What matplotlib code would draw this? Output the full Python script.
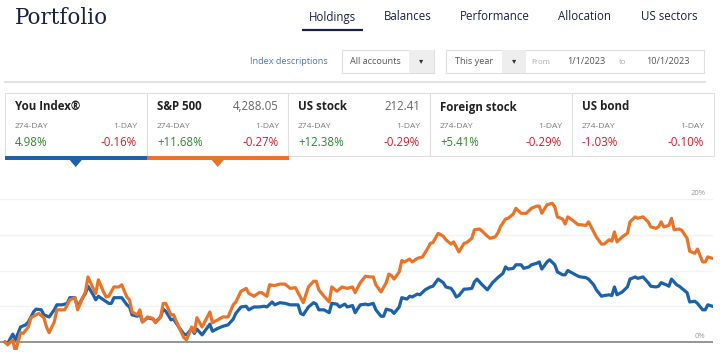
import matplotlib
matplotlib.use("Agg")
import matplotlib.pyplot as plt
from matplotlib.patches import Rectangle, Polygon

plt.rcParams['font.family'] = ['Open Sans', 'DejaVu Sans']

# tabs and controls
tabs = ['Holdings', 'Balances', 'Performance', 'Allocation', 'US sectors']
tab_x = [332, 408, 495, 585, 669]
date_from = '1/1/2023'
date_to = '10/1/2023'

# summary cards
card_names = ['You Index®', 'S&P 500', 'US stock', 'Foreign stock', 'US bond']
card_prices = ['', '4,288.05', '212.41', '', '']
card_274 = ['4.98%', '+11.68%', '+12.38%', '+5.41%', '-1.03%']
card_1day = ['-0.16%', '-0.27%', '-0.29%', '-0.29%', '-0.10%']

# series (day of period, % return)
sp_days = [0, 1, 3, 4, 6, 7, 9, 10, 12, 13, 15, 16, 17, 19, 20, 23, 25, 27, 28, 30,
           31, 32, 34, 35, 36, 38, 39, 40, 42, 44, 45, 47, 48, 49, 51, 52, 53, 55, 57, 58,
           60, 61, 62, 64, 65, 67, 69, 70, 72, 73, 74, 76, 77, 79, 80, 82, 84, 86, 88, 89,
           91, 93, 94, 96, 98, 99, 101, 102, 104, 106, 108, 110, 112, 114, 115, 117, 119, 120, 121, 123,
           125, 126, 128, 130, 132, 134, 135, 137, 139, 141, 142, 143, 145, 147, 148, 149, 150, 152, 153, 154,
           156, 157, 159, 161, 163, 164, 165, 167, 169, 170, 172, 173, 174, 175, 177, 178, 180, 181, 183, 184,
           186, 187, 189, 190, 191, 193, 194, 196, 197, 199, 201, 203, 205, 206, 207, 209, 211, 212, 213, 215,
           216, 217, 219, 221, 222, 224, 225, 227, 228, 230, 231, 233, 234, 235, 236, 238, 240, 241, 243, 244,
           246, 248, 249, 251, 252, 253, 254, 256, 257, 258, 260, 261, 263, 264, 266, 267, 269, 270, 271, 273]
sp_vals = [0.0, -0.4, 0.3, -1.4, 1.3, 1.2, 2.1, 3.4, 3.8, 4.0, 3.4, 2.1, 1.3, 2.8, 4.5, 4.5, 5.9, 6.2, 4.5, 6.2,
           7.0, 9.1, 7.5, 6.8, 8.7, 7.0, 6.3, 6.4, 7.7, 7.7, 8.0, 6.3, 5.9, 4.2, 3.8, 4.5, 2.8, 3.5, 3.3, 2.7,
           3.5, 5.4, 5.4, 3.8, 3.8, 2.1, 0.6, 0.3, 2.1, 1.4, 3.4, 2.1, 2.8, 4.2, 2.7, 3.1, 3.5, 3.5, 5.2, 5.6,
           7.1, 7.5, 6.8, 6.4, 6.9, 6.9, 6.4, 8.0, 7.9, 8.1, 8.1, 7.5, 7.6, 6.2, 5.5, 7.7, 8.5, 8.5, 7.3, 6.4,
           5.6, 7.7, 7.1, 7.7, 7.5, 7.7, 6.9, 8.3, 9.2, 9.1, 9.1, 8.0, 7.0, 8.3, 9.5, 9.3, 8.8, 9.8, 11.4, 11.2,
           11.6, 11.2, 11.7, 11.9, 13.1, 13.8, 13.9, 15.2, 14.8, 14.3, 13.7, 14.0, 13.3, 12.6, 13.8, 13.9, 14.5, 15.7, 15.8, 15.5,
           14.8, 14.5, 14.7, 15.2, 16.1, 17.2, 17.3, 17.9, 18.7, 18.0, 18.0, 18.7, 19.0, 19.0, 18.0, 19.2, 19.4, 18.9, 17.5, 17.2,
           16.5, 17.5, 17.0, 16.4, 16.4, 16.3, 16.8, 15.4, 14.7, 13.7, 13.7, 14.3, 14.1, 15.4, 14.0, 14.7, 15.2, 16.8, 17.5, 17.3,
           17.5, 16.8, 16.1, 15.9, 16.1, 16.8, 16.1, 16.3, 17.3, 15.7, 15.8, 15.6, 14.5, 12.7, 12.4, 13.0, 11.2, 11.2, 11.9, 11.68]

you_days = [0, 1, 3, 4, 6, 8, 9, 11, 12, 14, 15, 17, 19, 20, 22, 24, 25, 27, 28, 30,
            31, 32, 34, 35, 36, 38, 40, 41, 42, 44, 45, 47, 48, 49, 51, 52, 53, 55, 57, 58,
            60, 61, 62, 64, 65, 67, 69, 70, 72, 73, 74, 76, 77, 79, 80, 82, 84, 86, 88, 89,
            91, 93, 94, 96, 98, 100, 101, 103, 104, 106, 108, 110, 113, 114, 115, 117, 119, 120, 121, 123,
            125, 126, 128, 129, 131, 132, 134, 135, 137, 139, 140, 142, 143, 145, 146, 147, 149, 150, 152, 153,
            155, 156, 157, 159, 160, 162, 164, 165, 167, 169, 170, 172, 173, 174, 175, 177, 178, 180, 181, 182,
            184, 186, 187, 188, 190, 192, 193, 194, 196, 197, 199, 200, 202, 203, 205, 206, 207, 209, 210, 212,
            213, 215, 216, 217, 219, 221, 222, 224, 225, 227, 228, 230, 231, 233, 234, 235, 236, 238, 240, 241,
            243, 244, 246, 248, 249, 251, 252, 253, 255, 256, 257, 259, 260, 261, 263, 264, 266, 267, 269, 270,
            271, 273]
you_vals = [0.0, -0.2, 1.1, 0.3, 2.1, 2.4, 2.8, 4.2, 4.6, 4.5, 3.8, 3.5, 4.5, 5.2, 5.2, 5.4, 6.2, 6.2, 4.9, 6.2,
            6.8, 7.8, 6.6, 5.9, 6.4, 5.9, 5.4, 5.4, 6.2, 6.2, 6.2, 5.2, 4.9, 3.8, 3.6, 4.0, 2.8, 3.4, 3.2, 2.8,
            3.5, 4.6, 4.3, 3.1, 3.2, 2.1, 1.1, 1.0, 1.9, 1.2, 1.8, 1.0, 1.5, 2.5, 1.5, 1.9, 2.2, 2.4, 3.2, 4.0,
            4.9, 5.0, 4.5, 4.9, 4.9, 5.0, 4.9, 5.6, 5.2, 5.5, 5.4, 5.2, 5.2, 4.0, 3.8, 4.9, 5.5, 5.3, 4.5, 4.5,
            4.1, 5.4, 5.3, 4.9, 5.3, 4.9, 5.1, 4.1, 5.2, 5.3, 5.2, 5.4, 4.5, 3.6, 3.6, 4.6, 4.4, 4.0, 4.9, 6.2,
            6.0, 6.4, 6.3, 6.7, 6.6, 7.3, 7.7, 7.8, 8.8, 8.3, 7.7, 7.5, 7.0, 6.3, 6.5, 7.4, 7.4, 7.5, 8.4, 8.8,
            8.0, 7.3, 7.8, 8.3, 9.0, 9.6, 10.5, 10.2, 10.3, 10.8, 10.8, 10.3, 10.5, 10.8, 11.0, 11.2, 10.2, 11.2, 11.5, 10.8,
            9.8, 9.4, 9.4, 10.0, 9.6, 9.2, 9.1, 9.0, 8.8, 8.0, 7.3, 6.4, 6.5, 6.6, 6.5, 7.7, 6.6, 7.0, 7.7, 8.8,
            9.1, 8.9, 9.1, 8.3, 7.8, 7.7, 7.8, 8.3, 8.0, 7.8, 8.8, 8.0, 7.8, 7.5, 6.9, 5.6, 5.7, 5.4, 4.5, 4.5,
            5.2, 4.98]

y_grid = [5, 10, 15, 20]

navy = '#1b2146'
blue = '#1d62a8'
orange = '#e8742a'
green = '#2b8a2b'
red = '#cc1f2a'
light = '#dedede'

fig = plt.figure(figsize=(7.2, 3.6), dpi=100)

# chart area
ax = fig.add_axes([0, 10 / 360, 713 / 720, 165 / 360])
ax.set_xlim(-5 * 273 / 708, 273)
ax.set_ylim(-8 / 7.15, 157 / 7.15)
for g in y_grid:
    ax.axhline(g, color='#f2f2f2', lw=1, zorder=0)
ax.axhline(0, color='#8c8c8c', lw=1.3, zorder=1)
ax.plot(you_days, you_vals, color=blue, lw=2.3, solid_joinstyle='round', zorder=3)
ax.plot(sp_days, sp_vals, color=orange, lw=2.3, solid_joinstyle='round', zorder=4)
ax.text(270, 20.3, '20%', ha='right', va='bottom', fontsize=5.5, color='#9a9a9a')
ax.text(270, 0.3, '0%', ha='right', va='bottom', fontsize=5.5, color='#9a9a9a')
ax.axis('off')

# page elements in pixel coordinates
ui = fig.add_axes([0, 0, 1, 1], zorder=5)
ui.set_xlim(0, 720)
ui.set_ylim(360, 0)
ui.axis('off')
ui.patch.set_alpha(0)

ui.text(15, 18, 'Portfolio', family='DejaVu Serif', fontsize=15.5, color=navy,
        ha='left', va='center')
for t, x in zip(tabs, tab_x):
    ui.text(x, 17, t, fontsize=8.3, color=navy, ha='center', va='center')
ui.plot([302, 363], [29.5, 29.5], color=navy, lw=1.6, solid_capstyle='butt')

ui.text(328, 62, 'Index descriptions', fontsize=6.6, color='#4a78b5', ha='right', va='center')

# account dropdown
ui.add_patch(Rectangle((342, 50), 92, 23, fc='white', ec=light, lw=0.8))
ui.add_patch(Rectangle((409, 50), 25, 23, fc='#eeeeee', ec='none'))
ui.text(350, 61.5, 'All accounts', fontsize=6.6, color='#555555', va='center')
ui.text(421.5, 61.5, '▾', fontsize=6, color='#333333', ha='center', va='center')

# date range box
ui.add_patch(Rectangle((446, 50), 258, 23, fc='white', ec=light, lw=0.8))
ui.add_patch(Rectangle((502, 50), 24, 23, fc='#eeeeee', ec='none'))
ui.text(455, 61.5, 'This year', fontsize=6.6, color='#555555', va='center')
ui.text(514, 61.5, '▾', fontsize=6, color='#333333', ha='center', va='center')
ui.text(531, 62, 'From', fontsize=5.6, color='#aaaaaa', va='center')
ui.text(567, 61.5, date_from, fontsize=6.6, color='#555555', va='center')
ui.text(619, 62, 'to', fontsize=5.6, color='#aaaaaa', va='center')
ui.text(646, 61.5, date_to, fontsize=6.6, color='#555555', va='center')

ui.plot([5, 705], [82, 82], color='#e2e2e2', lw=1.5)

# cards
card_left = [5, 147, 288, 430, 572]
card_w = 141.5
for i, left in enumerate(card_left):
    ui.add_patch(Rectangle((left, 93), card_w, 63, fc='white', ec=light, lw=0.8))
    ui.text(left + 10, 107, card_names[i], fontsize=8.3, fontweight='bold',
            color='#222222', va='center')
    if card_prices[i]:
        ui.text(left + 132, 107, card_prices[i], fontsize=8.3, color='#666666',
                ha='right', va='center')
    ui.text(left + 10, 126, '274-DAY', fontsize=6.1, color='#7a7a7a', va='center')
    ui.text(left + 132, 126, '1-DAY', fontsize=6.1, color='#7a7a7a', ha='right', va='center')
    c274 = red if card_274[i].startswith('-') else green
    c1 = red if card_1day[i].startswith('-') else green
    ui.text(left + 10, 142.5, card_274[i], fontsize=8.3, color=c274, va='center')
    ui.text(left + 132, 142.5, card_1day[i], fontsize=8.3, color=c1, ha='right', va='center')

for left, col in [(card_left[0], blue), (card_left[1], orange)]:
    ui.add_patch(Rectangle((left, 155.5), card_w, 4, fc=col, ec='none'))
    cx = left + card_w / 2
    ui.add_patch(Polygon([(cx - 6.5, 159.5), (cx + 6.5, 159.5), (cx, 167)], closed=True,
                         fc=col, ec='none'))

fig.savefig('out.png', dpi=100)
